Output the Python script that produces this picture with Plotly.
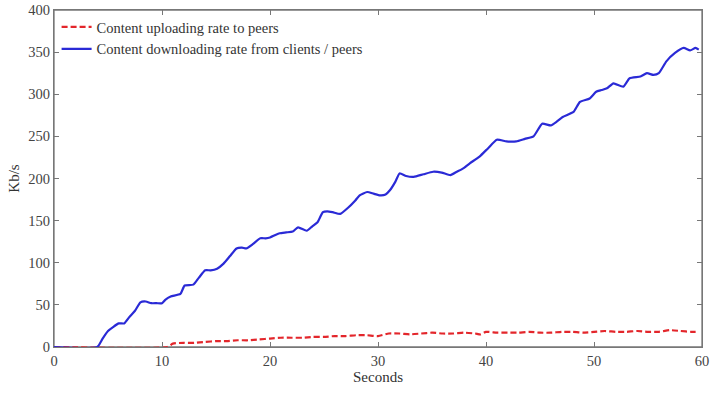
import plotly.graph_objects as go

# Download rate (blue) readings
down_t = [0, 4.0, 4.5, 5, 5.5, 6, 6.5, 7, 7.5, 8, 8.5, 9, 9.5, 10, 10.3, 10.8, 11.7, 12.1, 12.9, 13.4,
          14, 14.5, 15.1, 15.7, 16.3, 16.9, 17.4, 17.8, 18.4, 19.1, 19.6, 20, 20.5, 20.9, 21.5, 22.1,
          22.6, 23.4, 23.9, 24.4, 24.9, 25.3, 25.8, 26.5, 27.2, 27.9, 28.3, 29.0, 29.6, 30.2, 30.7,
          31.1, 31.6, 32.0, 32.6, 33.3, 34.2, 35.1, 35.9, 36.7, 37.3, 37.9, 38.5, 39.4, 40.2, 41.0,
          41.9, 42.8, 43.6, 44.4, 45.2, 46.0, 46.6, 47.1, 48.1, 48.7, 49.6, 50.2, 50.7, 51.2, 51.8,
          52.7, 53.3, 54.3, 54.9, 55.5, 56.0, 56.7, 57.5, 58.3, 58.9, 59.4, 59.7]
down_v = [0, 0, 10, 19, 24, 28, 28, 36, 43, 53, 54, 52, 52, 52, 56, 60, 63, 73, 74, 82,
          91, 91, 93, 99, 108, 117, 118, 117, 122, 129, 129, 130, 133, 135, 136, 137,
          142, 138, 143, 148, 160, 161, 160, 158, 165, 174, 180, 184, 182, 180, 181,
          186, 196, 206, 203, 202, 205, 208, 207, 204, 208, 212, 218, 226, 236, 246,
          244, 244, 247, 250, 265, 263, 268, 273, 279, 291, 295, 303, 305, 307, 313,
          309, 319, 321, 325, 323, 325, 339, 349, 355, 352, 355, 353]

# Upload rate (red) readings
up_t = [0, 10.5, 11, 12, 13, 14, 15, 16, 17, 18, 19, 20, 21, 22, 23, 24, 25, 26, 27, 28, 29, 30,
        31, 32, 33, 34, 35, 36, 37, 38, 39, 39.5, 40, 41, 42, 43, 44, 45, 46, 47, 48, 49, 50,
        51, 52, 53, 54, 55, 56, 57, 58, 59, 59.7]
up_v = [0, 0, 4, 5, 5, 6, 7, 7, 8, 8, 9, 10, 11, 11, 11, 12, 12, 13, 13, 14, 14, 13,
        16, 16, 15, 16, 17, 16, 16, 17, 16, 15, 18, 17, 17, 17, 18, 17, 17, 18, 18, 17, 18,
        19, 18, 18, 19, 18, 18, 20, 19, 18, 18]

x_ticks = [0, 10, 20, 30, 40, 50, 60]
y_ticks = [0, 50, 100, 150, 200, 250, 300, 350, 400]

FONT = "Liberation Serif, Times New Roman, serif"
FRAME = "#777777"

fig = go.Figure()
fig.add_trace(go.Scatter(x=up_t, y=up_v, mode="lines", name="Content uploading rate to peers",
                         line=dict(color="#e3262b", width=2.2, dash="6px,3px", shape="spline", smoothing=0.5)))
fig.add_trace(go.Scatter(x=down_t, y=down_v, mode="lines", name="Content downloading rate from clients / peers",
                         line=dict(color="#2a2ad6", width=2.2, shape="spline", smoothing=0.5)))

axis_common = dict(showline=True, linecolor=FRAME, linewidth=1.3, mirror="ticks", ticks="inside",
                   ticklen=5, tickcolor=FRAME, showgrid=False, zeroline=False, automargin=False,
                   tickfont=dict(family=FONT, size=14.5, color="#444"))

fig.update_xaxes(range=[0, 60], tickvals=x_ticks, **axis_common,
                 title=dict(text="Seconds", font=dict(family=FONT, size=15, color="#333"), standoff=0))
fig.update_yaxes(range=[0, 400], tickvals=y_ticks, **axis_common,
                 title=dict(text="Kb/s", font=dict(family=FONT, size=15, color="#333"), standoff=4))

# plot-area frame (paper-referenced box around the axes domain), beneath the traces
fig.add_shape(type="rect", xref="paper", yref="paper", x0=0, y0=0, x1=1, y1=1,
              line=dict(color=FRAME, width=1.3), fillcolor="rgba(0,0,0,0)", layer="below")

fig.update_layout(
    width=713, height=403,
    margin=dict(l=54, r=11, t=10, b=56),
    paper_bgcolor="white", plot_bgcolor="white",
    font=dict(family=FONT, size=15, color="#333"),
    legend=dict(x=0.004, y=0.997, xanchor="left", yanchor="top", bgcolor="rgba(0,0,0,0)",
                font=dict(family=FONT, size=14.5, color="#333"), itemwidth=30, tracegroupgap=0),
    showlegend=True,
)

fig.write_html("out.html")
